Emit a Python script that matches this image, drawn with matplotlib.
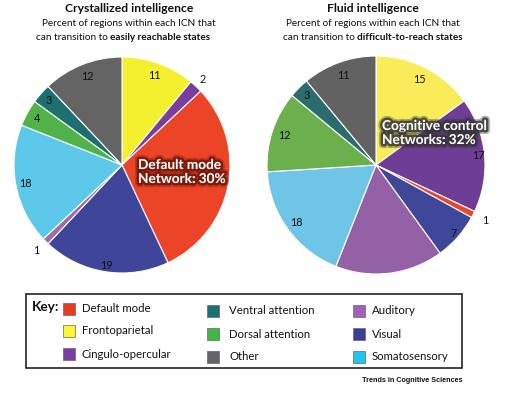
import matplotlib
matplotlib.use("Agg")
import matplotlib.pyplot as plt
import matplotlib.patheffects as pe
from matplotlib.patches import Rectangle
import numpy as np

plt.rcParams['font.family'] = ['Lato', 'DejaVu Sans']

# ---- data ----
networks = ["Frontoparietal", "Cingulo-opercular", "Default mode", "Visual",
            "Auditory", "Somatosensory", "Dorsal attention", "Ventral attention", "Other"]
crystallized = [11, 2, 30, 19, 1, 18, 4, 3, 12]
fluid = [15, 17, 1, 7, 16, 18, 12, 3, 11]
crystallized_labels = ["11", "2", "", "19", "1", "18", "4", "3", "12"]
fluid_labels = ["15", "17", "1", "7", "", "18", "12", "3", "11"]

left_colors = ["#F5F02E", "#7A3E9E", "#EC4426", "#3F4599", "#A06AAE",
               "#5CC8EA", "#4FB34A", "#1E7070", "#646464"]
right_colors = ["#F9EC58", "#6E3D95", "#E9462A", "#3F4799", "#9460A6",
                "#6EC5E6", "#6CAF4D", "#2C6B6E", "#626262"]

legend_items = [["Default mode", "Frontoparietal", "Cingulo-opercular"],
                ["Ventral attention", "Dorsal attention", "Other"],
                ["Auditory", "Visual", "Somatosensory"]]
legend_colors = [["#EC3A1E", "#FFF533", "#7B3FA3"],
                 ["#1B7272", "#3DB843", "#636369"],
                 ["#A45FB8", "#3C3F9A", "#1FC6F0"]]

W, H = 507, 395
fig = plt.figure(figsize=(W / 100, H / 100), dpi=100)
fig.patch.set_facecolor("white")


def pix_axes(x0, y0, x1, y1):
    return fig.add_axes([x0 / W, 1 - y1 / H, (x1 - x0) / W, (y1 - y0) / H])


def draw_pie(ax, values, labels, colors, dists):
    wedges, _ = ax.pie(values, colors=colors, startangle=90, counterclock=False,
                       radius=1.0, wedgeprops=dict(edgecolor="white", linewidth=0.8))
    ax.set_xlim(-1.0, 1.0)
    ax.set_ylim(-1.0, 1.0)
    ax.set_aspect("equal")
    for w, lab, d in zip(wedges, labels, dists):
        if not lab:
            continue
        ang = np.deg2rad((w.theta1 + w.theta2) / 2)
        ax.text(d * np.cos(ang), d * np.sin(ang), lab, ha="center", va="center",
                fontsize=7.8, color="#111111", clip_on=False)


axL = pix_axes(14, 57, 230, 273)
draw_pie(axL, crystallized, crystallized_labels, left_colors,
         [0.88, 1.09, 0, 0.94, 1.12, 0.91, 0.9, 0.9, 0.88])
axR = pix_axes(267, 56, 485, 274)
draw_pie(axR, fluid, fluid_labels, right_colors,
         [0.88, 0.94, 1.12, 0.95, 0, 0.9, 0.88, 0.9, 0.87])

# overlay in pixel coordinates
ov = fig.add_axes([0, 0, 1, 1])
ov.set_xlim(0, W)
ov.set_ylim(H, 0)
ov.axis("off")
ov.patch.set_alpha(0)

# titles
ov.text(129, 8, "Crystallized intelligence", ha="center", va="center",
        fontsize=8.7, fontweight="bold", color="#111111")
ov.text(129, 23, "Percent of regions within each ICN that", ha="center", va="center",
        fontsize=7.2, color="#111111")
ov.text(110, 37, "can transition to ", ha="right", va="center", fontsize=7.2, color="#111111")
ov.text(110, 37, "easily reachable states", ha="left", va="center", fontsize=7.2,
        fontweight="bold", color="#111111")

ov.text(373, 8, "Fluid intelligence", ha="center", va="center",
        fontsize=8.7, fontweight="bold", color="#111111")
ov.text(373, 23, "Percent of regions within each ICN that", ha="center", va="center",
        fontsize=7.2, color="#111111")
ov.text(357, 37, "can transition to ", ha="right", va="center", fontsize=7.2, color="#111111")
ov.text(357, 37, "difficult-to-reach states", ha="left", va="center", fontsize=7.2,
        fontweight="bold", color="#111111")

# center annotations with soft glow
glow_red = [pe.withStroke(linewidth=6, foreground="#7A1A0E", alpha=0.35),
            pe.withStroke(linewidth=3.5, foreground="#6E150A", alpha=0.8)]
glow_gray = [pe.withStroke(linewidth=6, foreground="#333333", alpha=0.35),
             pe.withStroke(linewidth=3.5, foreground="#333333", alpha=0.8)]
ov.text(138, 172, "Default mode\nNetwork: 30%", ha="left", va="center",
        fontsize=9.8, fontweight="bold", color="white", linespacing=1.2,
        path_effects=glow_red)
ov.text(382, 133, "Cognitive control\nNetworks: 32%", ha="left", va="center",
        fontsize=9.8, fontweight="bold", color="white", linespacing=1.2,
        path_effects=glow_gray)

# legend box
ov.add_patch(Rectangle((26, 294), 436, 74, facecolor="white", edgecolor="#222222", linewidth=1.2))
ov.text(32, 307, "Key:", ha="left", va="center", fontsize=9.8, fontweight="bold", color="#111111")

col_sq_x = [63, 207, 353]
col_txt_x = [82, 229, 372]
col_rows = [[309, 331, 354], [311, 334, 357], [311, 334, 357]]
for c in range(3):
    for r in range(3):
        y = col_rows[c][r]
        ov.add_patch(Rectangle((col_sq_x[c], y - 6), 12, 12, facecolor=legend_colors[c][r],
                               edgecolor="#666666", linewidth=0.5))
        ov.text(col_txt_x[c], y, legend_items[c][r], ha="left", va="center",
                fontsize=8.2, color="#111111")

ov.text(463, 381, "Trends in Cognitive Sciences", ha="right", va="center",
        fontsize=5.2, fontweight="bold", color="#111111",
        family=["Liberation Sans", "DejaVu Sans"])

fig.savefig("out.png", dpi=100, facecolor="white")
